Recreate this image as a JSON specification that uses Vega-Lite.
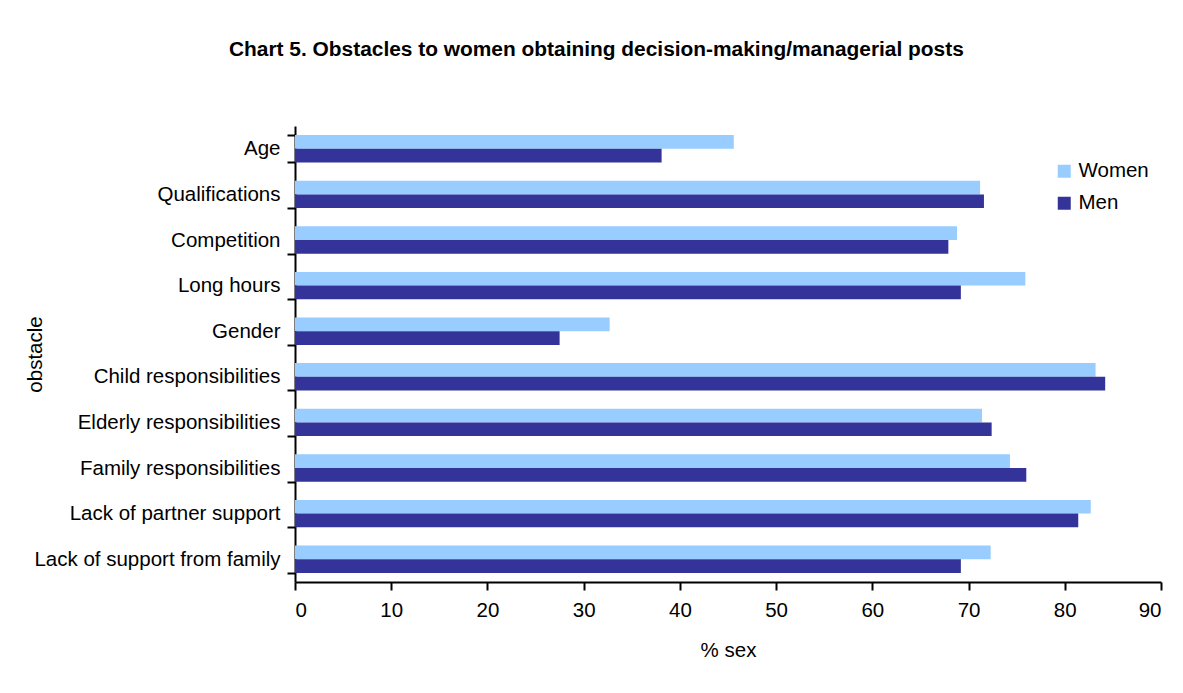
{
  "$schema": "https://vega.github.io/schema/vega-lite/v6.json",
  "width": 866,
  "height": 456,
  "autosize": {"type": "none"},
  "padding": {"left": 295, "top": 126, "right": 22, "bottom": 111},
  "background": "white",
  "title": {
    "text": "Chart 5.  Obstacles to women obtaining decision-making/managerial posts",
    "anchor": "start",
    "frame": "group",
    "dx": -66,
    "offset": 56,
    "font": "Liberation Sans",
    "fontSize": 20.9,
    "fontWeight": "bold",
    "color": "black"
  },
  "data": {
    "values": [
      {"obstacle": "Age", "sex": "Women", "value": 45.6},
      {"obstacle": "Age", "sex": "Men", "value": 38.1},
      {"obstacle": "Qualifications", "sex": "Women", "value": 71.2},
      {"obstacle": "Qualifications", "sex": "Men", "value": 71.6},
      {"obstacle": "Competition", "sex": "Women", "value": 68.8},
      {"obstacle": "Competition", "sex": "Men", "value": 67.9},
      {"obstacle": "Long hours", "sex": "Women", "value": 75.9},
      {"obstacle": "Long hours", "sex": "Men", "value": 69.2},
      {"obstacle": "Gender", "sex": "Women", "value": 32.7},
      {"obstacle": "Gender", "sex": "Men", "value": 27.5},
      {"obstacle": "Child responsibilities", "sex": "Women", "value": 83.2},
      {"obstacle": "Child responsibilities", "sex": "Men", "value": 84.2},
      {"obstacle": "Elderly responsibilities", "sex": "Women", "value": 71.4},
      {"obstacle": "Elderly responsibilities", "sex": "Men", "value": 72.4},
      {"obstacle": "Family responsibilities", "sex": "Women", "value": 74.3},
      {"obstacle": "Family responsibilities", "sex": "Men", "value": 76.0},
      {"obstacle": "Lack of partner support", "sex": "Women", "value": 82.7},
      {"obstacle": "Lack of partner support", "sex": "Men", "value": 81.4},
      {"obstacle": "Lack of support from family", "sex": "Women", "value": 72.3},
      {"obstacle": "Lack of support from family", "sex": "Men", "value": 69.2}
    ]
  },
  "mark": {"type": "bar"},
  "encoding": {
    "y": {
      "field": "obstacle",
      "type": "nominal",
      "sort": null,
      "scale": {"paddingInner": 0.4, "paddingOuter": 0.2},
      "axis": {
        "title": "obstacle",
        "titleX": -260,
        "titleY": 228,
        "titleAngle": -90,
        "titleAlign": "center",
        "titleBaseline": "middle",
        "titleFont": "Liberation Sans",
        "titleFontSize": 20.5,
        "titleFontWeight": "normal",
        "titleColor": "black",
        "labelFont": "Liberation Sans",
        "labelFontSize": 20.5,
        "labelLimit": 0,
        "labelColor": "black",
        "labelPadding": 7,
        "tickBand": "extent",
        "tickSize": 8,
        "tickColor": "black",
        "tickWidth": 2,
        "domainColor": "black",
        "domainWidth": 2,
        "grid": false
      }
    },
    "yOffset": {
      "field": "sex",
      "type": "nominal",
      "sort": ["Women", "Men"],
      "scale": {"paddingInner": 0, "paddingOuter": 0}
    },
    "x": {
      "field": "value",
      "type": "quantitative",
      "scale": {"domain": [0, 90], "nice": false},
      "axis": {
        "title": "% sex",
        "values": [0, 10, 20, 30, 40, 50, 60, 70, 80, 90],
        "titleFont": "Liberation Sans",
        "titleFontSize": 20.5,
        "titleFontWeight": "normal",
        "titleColor": "black",
        "titlePadding": 20,
        "labelFont": "Liberation Sans",
        "labelFontSize": 20.5,
        "labelColor": "black",
        "labelPadding": 10,
        "tickSize": 8,
        "tickColor": "black",
        "tickWidth": 2,
        "domainColor": "black",
        "domainWidth": 2,
        "grid": false
      }
    },
    "color": {
      "field": "sex",
      "type": "nominal",
      "sort": ["Women", "Men"],
      "scale": {"domain": ["Women", "Men"], "range": ["#99CCFF", "#333399"]},
      "legend": {
        "title": null,
        "orient": "none",
        "legendX": 759,
        "legendY": 35,
        "symbolType": "square",
        "symbolSize": 169,
        "symbolStrokeWidth": 0,
        "labelFont": "Liberation Sans",
        "labelFontSize": 20.5,
        "labelColor": "black",
        "labelOffset": 4,
        "rowPadding": 11
      }
    }
  },
  "config": {
    "view": {"stroke": null}
  }
}
